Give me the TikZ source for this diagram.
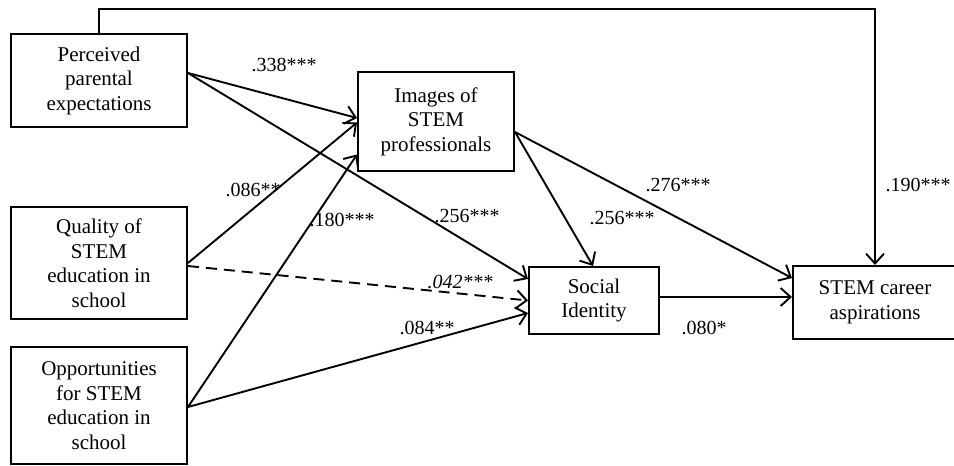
\documentclass[tikz,border=0pt]{standalone}
\usepackage{fontspec}
\setmainfont{Liberation Serif}
\usetikzlibrary{arrows.meta}
\tikzset{
  box/.style={draw, line width=2pt, align=center, inner sep=0pt,
    font=\fontsize{21}{24.5}\selectfont},
  lbl/.style={font=\fontsize{20}{22}\selectfont, inner sep=0pt},
  arr/.style={line width=1.9pt, -{Straight Barb[length=10pt,width=18pt,line width=1.9pt]}},
  dsh/.style={arr, dash pattern=on 11pt off 7pt}
}
\begin{document}
\begin{tikzpicture}[x=1pt,y=-1pt]
\useasboundingbox (0,0) rectangle (954,466);
\node[box, minimum width=176pt, minimum height=93pt] (pp) at (99,80.5) {Perceived\\parental\\expectations};
\node[box, minimum width=156pt, minimum height=99pt] (im) at (436,121.5) {Images of\\STEM\\professionals};
\node[box, minimum width=176pt, minimum height=112pt] (qs) at (99,263) {Quality of\\STEM\\education in\\school};
\node[box, minimum width=176pt, minimum height=117pt] (op) at (99,405.5) {Opportunities\\for STEM\\education in\\school};
\node[box, minimum width=130pt, minimum height=67pt] (si) at (594,300.5) {Social\\Identity};
\node[box, minimum width=164pt, minimum height=73pt] (sc) at (875,302.5) {STEM career\\aspirations};
\coordinate (top) at (0,9);

\draw[arr] ([yshift=7.5pt]pp.east) -- ([yshift=3.5pt]im.west);
\draw[arr] ([yshift=7.5pt]pp.east) -- ([yshift=21.5pt]si.west);
\draw[arr] (qs.east) -- ([yshift=-1pt]im.west);
\draw[dsh] ([yshift=-3pt]qs.east) -- ([yshift=0pt]si.west);
\draw[arr] ([yshift=-1.5pt]op.east) -- ([yshift=-33pt]im.west);
\draw[arr] ([yshift=-1.5pt]op.east) -- ([yshift=-12.5pt]si.west);
\draw[arr] ([yshift=-10.5pt]im.east) -- ([xshift=-1pt]si.north);
\draw[arr] ([yshift=-10.5pt]im.east) -- ([yshift=24.5pt]sc.west);
\draw[arr] ([yshift=3.5pt]si.east) -- ([yshift=5.5pt]sc.west);
\draw[arr] (pp.north) |- (top -| sc.north) -- (sc.north);

\node[lbl] (l1) at (284,65) {.338***};
\node[lbl] (l2) at (253,190) {.086**};
\node[lbl] (l3) at (342,220) {.180***};
\node[lbl] (l4) at (467,216) {.256***};
\node[lbl] (l5) at (622,218) {.256***};
\node[lbl] (l6) at (678,185) {.276***};
\node[lbl] (l7) at (918,185) {.190***};
\node[lbl] (l8) at (460,282) {\itshape .042***};
\node[lbl] (l9) at (427,328) {.084**};
\node[lbl] (l10) at (704,328) {.080*};
\end{tikzpicture}
\end{document}
